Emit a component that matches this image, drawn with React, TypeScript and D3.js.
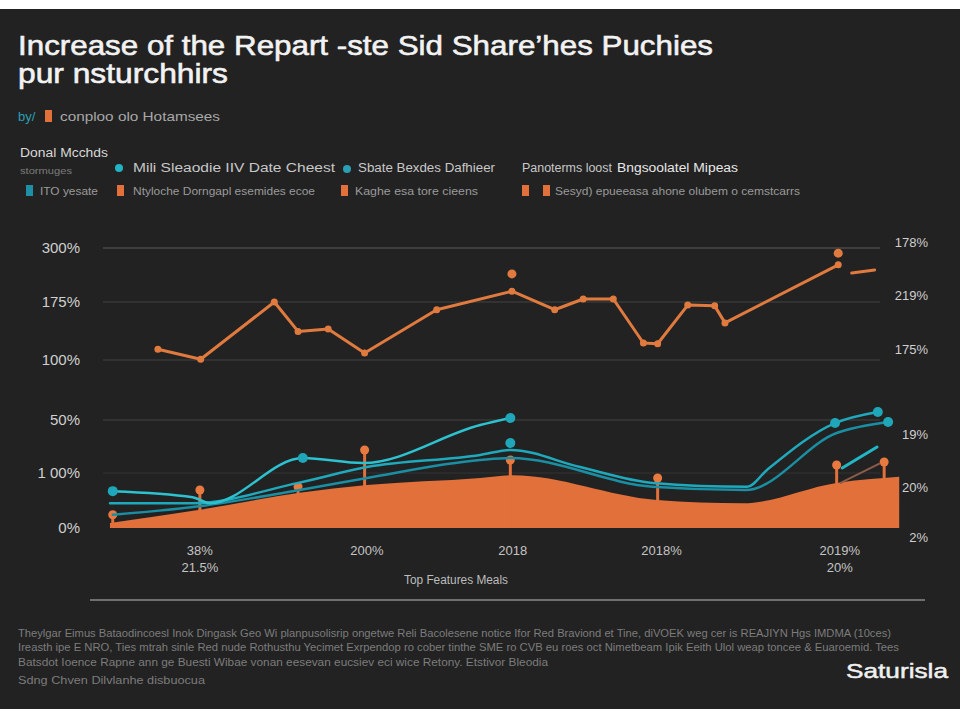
import { useEffect, useRef } from 'react';
import * as d3 from 'd3';

// chart values (x = position along the period axis, 0..100)
const orangeX = [6.3, 11.7, 21.0, 24.0, 27.8, 32.4, 41.5, 51.0, 56.4, 60.0, 63.8, 67.6, 69.4, 73.2, 76.6, 77.9, 92.2];
const orangeV = [114, 101, 175, 137, 140, 109, 165, 200, 165, 182, 182, 122, 121, 171, 170, 148, 261];
const orangeTailX = [93.9, 96.8];
const orangeTailV = [242, 249];
const orangeFloatX = [51.0, 92.2];
const orangeFloatV = [240, 288];

const areaX = [0.25, 11.6, 24.2, 32.7, 47, 51.1, 69.3, 80.2, 92, 99.9];
const areaV = [0.9, 3.3, 6.4, 7.8, 9.1, 9.6, 5.1, 4.5, 8.2, 9.3];

const teal1X = [0.6, 10.7, 12.9, 24.6, 32.2, 47.0, 50.8];
const teal1V = [6.7, 5.6, 4.5, 21.3, 17.5, 46.2, 51.7];
const teal2X = [0.25, 10.7, 24, 32.7, 47, 50.8, 59.6, 68.8, 80.7, 83.2, 91.8, 97.2];
const teal2V = [4.5, 4.5, 8.2, 14.5, 23.6, 27.4, 14.5, 8.2, 7.5, 12.3, 47.7, 56.7];
const teal3X = [0.6, 10.7, 24.2, 32.7, 47, 50.8, 68.8, 80.5, 92, 98.5];
const teal3V = [2.4, 3.8, 6.9, 9.1, 19.8, 21.3, 7.5, 6.9, 40.2, 48.5];
const tealShortX = [92.7, 97.1];
const tealShortV = [13.8, 29.6];
const darkX = [92.5, 97.4];
const darkV = [8.2, 17];

const tealDotX = [0.6, 24.6, 50.8, 50.8, 91.8, 97.2, 98.5];
const tealDotV = [6.7, 21.3, 51.7, 32.6, 47.7, 56.7, 48.5];

const pinX = [0.6, 11.6, 24, 32.4, 50.8, 69.4, 92, 98];
const pinV = [2.4, 6.9, 7.5, 27.4, 19.8, 9.1, 16, 18.3];

const leftTicks = [0, 10, 50, 100, 175, 300];
const leftTickLabels = ['0%', '1 00%', '50%', '100%', '175%', '300%'];
const rightTickLabels = ['2%', '20%', '19%', '175%', '219%', '178%'];
const xTicks = [11.6, 32.7, 51.1, 69.9, 92.4];
const xTickLabels = ['38%', '200%', '2018', '2018%', '2019%'];
const xSubLabels = ['21.5%', '', '', '', '20%'];

const titleLines = ['Increase of the Repart  -ste Sid Share\u2019hes Puchies', 'pur nsturchhirs'];
const footerLines = [
  'Theylgar Eimus Bataodincoesl Inok Dingask Geo Wi planpusolisrip ongetwe Reli Bacolesene notice Ifor Red Braviond et Tine, diVOEK weg cer is REAJIYN Hgs IMDMA (10ces)',
  'Ireasth ipe E NRO, Ties mtrah sinle Red nude Rothusthu Yecimet Exrpendop ro cober tinthe SME ro CVB eu roes oct Nimetbeam Ipik Eeith Ulol weap toncee & Euaroemid. Tees',
  'Batsdot Ioence Rapne ann ge Buesti Wibae vonan eesevan eucsiev eci wice Retony. Etstivor Bleodia',
  'Sdng Chven Dilvlanhe disbuocua',
];

const App = () => {
  const svgRef = useRef<SVGSVGElement>(null);

  useEffect(() => {
    if (!svgRef.current) return;
    const svg = d3.select(svgRef.current);
    svg.selectAll('*').remove();

    const font = '"Liberation Sans", Arial, sans-serif';
    const orange = '#e2703a';
    const teal = '#22b3c4';

    svg.append('rect').attr('width', 960).attr('height', 720).attr('fill', '#ffffff');
    svg.append('rect').attr('x', 0).attr('y', 9).attr('width', 960).attr('height', 700).attr('fill', '#222222');

    // title
    titleLines.forEach((t, i) => {
      svg.append('text')
        .attr('x', 18).attr('y', i === 0 ? 55 : 83)
        .attr('fill', '#f2f2f2').attr('stroke', '#f2f2f2').attr('stroke-width', 0.6)
        .attr('font-family', font).attr('font-size', 28)
        .attr('textLength', i === 0 ? 695 : 210).attr('lengthAdjust', 'spacingAndGlyphs')
        .text(t);
    });

    // subtitle row
    svg.append('text').attr('x', 18).attr('y', 121).attr('fill', '#2a9fb3')
      .attr('font-family', font).attr('font-size', 13).text('by/');
    svg.append('rect').attr('x', 45).attr('y', 110).attr('width', 7).attr('height', 12).attr('fill', orange);
    svg.append('text').attr('x', 60).attr('y', 121).attr('fill', '#a8a8a8')
      .attr('font-family', font).attr('font-size', 13)
      .attr('textLength', 160).attr('lengthAdjust', 'spacingAndGlyphs').text('conploo olo Hotamsees');

    // legend block
    const small = (x: number, y: number, s: string, w: number, size: number, fill: string) =>
      svg.append('text').attr('x', x).attr('y', y).attr('fill', fill)
        .attr('font-family', font).attr('font-size', size)
        .attr('textLength', w).attr('lengthAdjust', 'spacingAndGlyphs').text(s);

    small(20, 157, 'Donal Mcchds', 88, 12, '#d8d8d8');
    small(20, 174, 'stormuges', 52, 9, '#7d7d7d');

    svg.append('circle').attr('cx', 119).attr('cy', 168).attr('r', 4).attr('fill', teal);
    small(133, 172, 'Mili Sleaodie IIV Date Cheest', 202, 12, '#c8c8c8');
    svg.append('circle').attr('cx', 347).attr('cy', 169).attr('r', 4).attr('fill', '#2a9fb3');
    small(358, 172, 'Sbate Bexdes Dafhieer', 137, 12, '#c8c8c8');
    small(522, 172, 'Panoterms loost', 90, 12, '#c8c8c8');
    small(617, 172, 'Bngsoolatel Mipeas', 121, 12, '#e8e8e8');

    const sq = (x: number, fill: string) =>
      svg.append('rect').attr('x', x).attr('y', 185).attr('width', 7).attr('height', 11).attr('fill', fill);
    sq(26, '#1d8fa6');
    small(40, 195, 'ITO yesate', 58, 11, '#9a9a9a');
    sq(117, orange);
    small(133, 195, 'Ntyloche Dorngapl esemides ecoe', 182, 11, '#9a9a9a');
    sq(341, orange);
    small(355, 195, 'Kaghe esa tore cieens', 123, 11, '#9a9a9a');
    sq(522, orange);
    sq(543, orange);
    small(555, 195, 'Sesyd) epueeasa ahone olubem o cemstcarrs', 245, 11, '#9a9a9a');

    // scales
    const x = d3.scaleLinear().domain([0, 100]).range([108, 900]);
    const y = d3.scaleLinear().domain(leftTicks).range([528, 473, 420, 360, 302, 248]);
    const rightPos = d3.scaleLinear().domain([0, 1, 2, 3, 4, 5]).range([538, 488, 435, 350, 296, 243]);

    // gridlines
    svg.append('g').selectAll('line')
      .data(leftTicks.slice(1))
      .join('line')
      .attr('x1', 103).attr('x2', 880)
      .attr('y1', d => y(d)).attr('y2', d => y(d))
      .attr('stroke', (d, i) => (i === 0 ? '#2e2e2e' : i === 4 ? '#4a4a4a' : '#393939'))
      .attr('stroke-width', 1.5);

    // left axis labels
    svg.append('g').selectAll('text')
      .data(leftTicks)
      .join('text')
      .attr('x', 80).attr('y', d => y(d) + 5)
      .attr('text-anchor', 'end').attr('fill', '#d0d0d0')
      .attr('font-family', font).attr('font-size', 15)
      .text((d, i) => leftTickLabels[i]);

    // right axis labels
    svg.append('g').selectAll('text')
      .data(rightTickLabels)
      .join('text')
      .attr('x', 928).attr('y', (d, i) => rightPos(i) + 4)
      .attr('text-anchor', 'end').attr('fill', '#cfcfcf')
      .attr('font-family', font).attr('font-size', 13)
      .text(d => d);

    // area
    const areaData = areaX.map((v, i) => ({ x: v, v: areaV[i] }));
    const area = d3.area<{ x: number; v: number }>()
      .x(d => x(d.x)).y0(y(0)).y1(d => y(d.v))
      .curve(d3.curveMonotoneX);
    svg.append('path').datum(areaData).attr('d', area).attr('fill', orange);

    // pins on the area
    const pins = pinX.map((v, i) => ({ x: v, v: pinV[i] }));
    svg.append('g').selectAll('line').data(pins).join('line')
      .attr('x1', d => x(d.x)).attr('x2', d => x(d.x))
      .attr('y1', d => y(d.v)).attr('y2', y(0))
      .attr('stroke', orange).attr('stroke-width', 3);
    svg.append('g').selectAll('circle').data(pins).join('circle')
      .attr('cx', d => x(d.x)).attr('cy', d => y(d.v)).attr('r', 4.5)
      .attr('fill', '#e87a40');

    const line = d3.line<{ x: number; v: number }>()
      .x(d => x(d.x)).y(d => y(d.v));
    const smooth = d3.line<{ x: number; v: number }>()
      .x(d => x(d.x)).y(d => y(d.v)).curve(d3.curveMonotoneX);
    const pts = (xs: number[], vs: number[]) => xs.map((v, i) => ({ x: v, v: vs[i] }));

    const drawLine = (xs: number[], vs: number[], color: string, w: number, gen = smooth) =>
      svg.append('path').datum(pts(xs, vs)).attr('d', gen)
        .attr('fill', 'none').attr('stroke', color).attr('stroke-width', w)
        .attr('stroke-linejoin', 'round').attr('stroke-linecap', 'round');

    drawLine(darkX, darkV, '#8a5c4c', 2);
    drawLine(teal3X, teal3V, '#1a8fa3', 2.5);
    drawLine(teal2X, teal2V, '#1fa9bd', 2.5);
    drawLine(teal1X, teal1V, '#2cc2cf', 2.5);
    drawLine(tealShortX, tealShortV, '#22b7c6', 3);

    svg.append('g').selectAll('circle').data(pts(tealDotX, tealDotV)).join('circle')
      .attr('cx', d => x(d.x)).attr('cy', d => y(d.v)).attr('r', 5)
      .attr('fill', '#1fa6b8');

    // orange line
    drawLine(orangeX, orangeV, '#e07a3e', 3, line);
    drawLine(orangeTailX, orangeTailV, '#e07a3e', 3, line);
    svg.append('g').selectAll('circle').data(pts(orangeX, orangeV)).join('circle')
      .attr('cx', d => x(d.x)).attr('cy', d => y(d.v)).attr('r', 3.5)
      .attr('fill', '#e07a3e');
    svg.append('g').selectAll('circle').data(pts(orangeFloatX, orangeFloatV)).join('circle')
      .attr('cx', d => x(d.x)).attr('cy', d => y(d.v)).attr('r', 4.5)
      .attr('fill', '#e07a3e');

    // x labels
    svg.append('g').selectAll('text').data(xTicks).join('text')
      .attr('x', d => x(d)).attr('y', 555)
      .attr('text-anchor', 'middle').attr('fill', '#c4c4c4')
      .attr('font-family', font).attr('font-size', 13)
      .text((d, i) => xTickLabels[i]);
    svg.append('g').selectAll('text').data(xTicks).join('text')
      .attr('x', d => x(d)).attr('y', 572)
      .attr('text-anchor', 'middle').attr('fill', '#c4c4c4')
      .attr('font-family', font).attr('font-size', 13)
      .text((d, i) => xSubLabels[i]);

    small(404, 584, 'Top Features Meals', 104, 12, '#bdbdbd');

    svg.append('line').attr('x1', 90).attr('x2', 925).attr('y1', 600).attr('y2', 600)
      .attr('stroke', '#8a8a8a').attr('stroke-width', 1.5);

    // footer
    const footW = [873, 881, 530, 187];
    const footY = [637, 651, 666, 684];
    footerLines.forEach((t, i) => small(18, footY[i], t, footW[i], 10, '#7c7c7c'));

    svg.append('text').attr('x', 846).attr('y', 678)
      .attr('fill', '#f0f0f0').attr('stroke', '#f0f0f0').attr('stroke-width', 0.5)
      .attr('font-family', font).attr('font-size', 21)
      .attr('textLength', 102).attr('lengthAdjust', 'spacingAndGlyphs')
      .text('Saturisla');
  }, []);

  return (
    <div style={{ position: 'absolute', left: 0, top: 0 }}>
      <svg ref={svgRef} width={960} height={720} style={{ display: 'block' }}></svg>
    </div>
  );
};

export default App;
